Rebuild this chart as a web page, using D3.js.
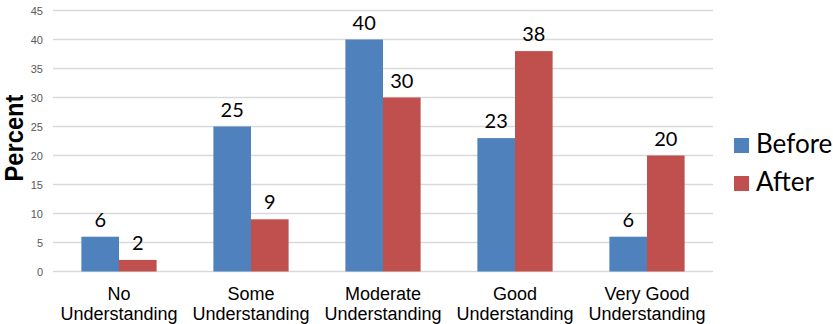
<!DOCTYPE html>
<html>
<head>
<meta charset="utf-8">
<script src="https://cdn.jsdelivr.net/npm/d3@7"></script>
<style>
  html, body { margin: 0; padding: 0; background: #fff; }
  svg { display: block; }
</style>
</head>
<body>
<svg id="chart" width="833" height="324"></svg>
<script>
// Understanding levels, before and after (percent of respondents)
const categories = [
  ["No", "Understanding"],
  ["Some", "Understanding"],
  ["Moderate", "Understanding"],
  ["Good", "Understanding"],
  ["Very Good", "Understanding"]
];
const seriesNames = ["Before", "After"];
const beforeValues = [6, 25, 40, 23, 6];
const afterValues = [2, 9, 30, 38, 20];
const yTicks = [0, 5, 10, 15, 20, 25, 30, 35, 40, 45];
const seriesColors = ["#4F81BD", "#C0504D"];

const svg = d3.select("#chart");
const plot = { left: 53, right: 713, top: 10.5, bottom: 271.5 };

const x = d3.scaleBand()
  .domain(d3.range(categories.length))
  .range([plot.left, plot.right])
  .paddingInner(0.43)
  .paddingOuter(0.215);

const xs = d3.scaleBand()
  .domain(seriesNames)
  .range([0, x.bandwidth()]);

const y = d3.scaleLinear()
  .domain([0, 45])
  .range([plot.bottom, plot.top]);

// horizontal gridlines
svg.append("g")
  .selectAll("line")
  .data(yTicks)
  .join("line")
  .attr("x1", plot.left)
  .attr("x2", plot.right)
  .attr("y1", d => y(d))
  .attr("y2", d => y(d))
  .attr("stroke", "#d9d9d9")
  .attr("stroke-width", 1.5);

// y tick labels
const yAxis = d3.axisLeft(y).tickValues(yTicks).tickSize(0).tickPadding(0);
const yg = svg.append("g")
  .attr("transform", `translate(${plot.left - 10},0)`)
  .call(yAxis);
yg.select(".domain").remove();
yg.selectAll("text")
  .attr("font-family", "Liberation Sans, Arial, sans-serif")
  .attr("font-size", 11)
  .attr("fill", "#595959");

// y axis title (narrow bold face)
svg.append("text")
  .attr("transform", `translate(23,138) rotate(-90)`)
  .attr("text-anchor", "middle")
  .attr("font-family", "Liberation Sans, Arial, sans-serif")
  .attr("font-weight", "bold")
  .attr("font-size", 25)
  .attr("textLength", 87)
  .attr("lengthAdjust", "spacingAndGlyphs")
  .attr("fill", "#000")
  .text("Percent");

// bars
const rows = categories.map((c, i) => ({
  i,
  values: [
    { key: "Before", value: beforeValues[i], color: seriesColors[0] },
    { key: "After", value: afterValues[i], color: seriesColors[1] }
  ]
}));

const groups = svg.append("g")
  .selectAll("g")
  .data(rows)
  .join("g")
  .attr("transform", d => `translate(${x(d.i)},0)`);

groups.selectAll("rect")
  .data(d => d.values)
  .join("rect")
  .attr("x", d => xs(d.key))
  .attr("width", xs.bandwidth())
  .attr("y", d => y(d.value))
  .attr("height", d => y(0) - y(d.value))
  .attr("fill", d => d.color);

// value labels
groups.selectAll("text")
  .data(d => d.values)
  .join("text")
  .attr("x", d => xs(d.key) + xs.bandwidth() / 2)
  .attr("y", d => y(d.value) - 10)
  .attr("text-anchor", "middle")
  .attr("font-family", "Lato, 'Open Sans', sans-serif")
  .attr("font-size", 20)
  .attr("fill", "#000")
  .text(d => d.value);

// category labels
const xl = svg.append("g")
  .selectAll("text")
  .data(categories)
  .join("text")
  .attr("x", (d, i) => x(i) + x.bandwidth() / 2)
  .attr("y", 300)
  .attr("text-anchor", "middle")
  .attr("font-family", "Liberation Sans, Arial, sans-serif")
  .attr("font-size", 18)
  .attr("fill", "#000");
xl.selectAll("tspan")
  .data(d => d)
  .join("tspan")
  .attr("x", function () { return d3.select(this.parentNode).attr("x"); })
  .attr("dy", (d, j) => j === 0 ? 0 : 20)
  .text(d => d);

// legend
const legend = svg.append("g")
  .selectAll("g")
  .data(seriesNames)
  .join("g")
  .attr("transform", (d, i) => `translate(734,${138 + i * 38})`);
legend.append("rect")
  .attr("width", 15)
  .attr("height", 15)
  .attr("fill", (d, i) => seriesColors[i]);
legend.append("text")
  .attr("x", 22)
  .attr("y", 15)
  .attr("font-family", "Lato, 'Open Sans', sans-serif")
  .attr("font-size", 26)
  .attr("fill", "#000")
  .text(d => d);
</script>
</body>
</html>
